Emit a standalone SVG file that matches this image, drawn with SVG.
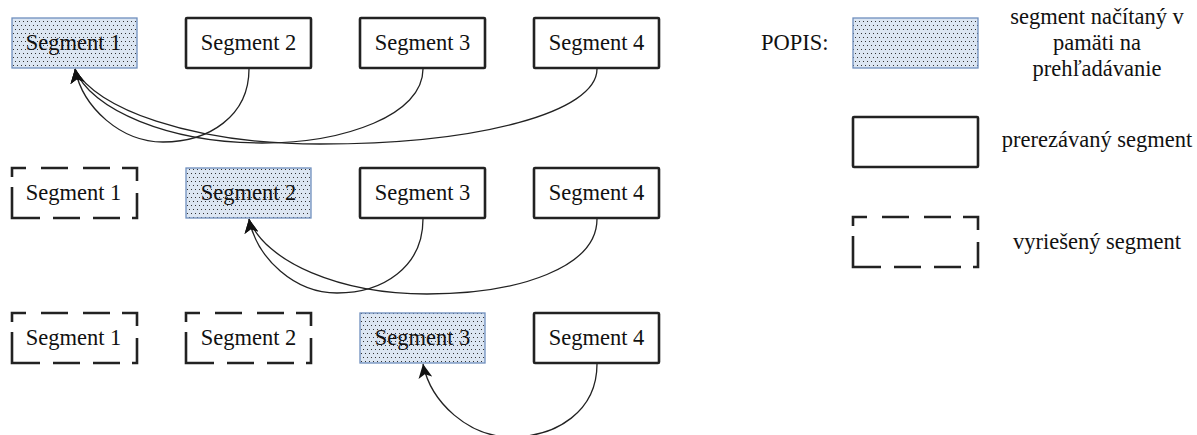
<svg xmlns="http://www.w3.org/2000/svg" width="1197" height="435" viewBox="0 0 1197 435">
  <defs>
    <!-- dotted fill for the segment that is loaded in memory -->
    <pattern id="dots" width="8" height="8" patternUnits="userSpaceOnUse">
      <rect width="8" height="8" fill="#dce6f2"/>
      <rect x="1" y="1" width="1" height="1" fill="#333"/>
      <rect x="5" y="1" width="1" height="1" fill="#333"/>
      <rect x="3" y="5" width="1" height="1" fill="#333"/>
      <rect x="7" y="5" width="1" height="1" fill="#333"/>
    </pattern>
    <marker id="arrow" viewBox="0 0 10 10" refX="10" refY="5" markerWidth="14" markerHeight="14" markerUnits="userSpaceOnUse" orient="-100">
      <path d="M0,0 L10,5 L0,10 L2.5,5 z" fill="#111"/>
    </marker>
    <style>
      .loaded { fill: url(#dots); stroke: #6f8fbd; stroke-width: 1.3; }
      .cut { fill: #fff; stroke: #222; stroke-width: 2.6; }
      .done { fill: none; stroke: #222; stroke-width: 2.6; stroke-linejoin: miter;
              stroke-dasharray: 14 15 27 15 27 12 28 12 30 12 27 13 27 13 59 10; }
      .lbl { font-family: "Liberation Serif", "Times New Roman", serif; font-size: 22.5px; fill: #111; }
      .mid { text-anchor: middle; }
      .conn { fill: none; stroke: #222; stroke-width: 1.3; marker-end: url(#arrow); }
    </style>
  </defs>

  <rect width="1197" height="435" fill="#fff"/>

  <!-- row 1 -->
  <g id="r1-seg1"><rect class="loaded" x="12" y="18" width="125" height="50"/><text class="lbl mid" x="73.5" y="50">Segment 1</text></g>
  <g id="r1-seg2"><rect class="cut" x="186" y="18" width="125" height="50" rx="1"/><text class="lbl mid" x="248.5" y="50">Segment 2</text></g>
  <g id="r1-seg3"><rect class="cut" x="360" y="18" width="125" height="50" rx="1"/><text class="lbl mid" x="422.5" y="50">Segment 3</text></g>
  <g id="r1-seg4"><rect class="cut" x="534" y="18" width="125" height="50" rx="1"/><text class="lbl mid" x="596.5" y="50">Segment 4</text></g>

  <!-- row 2 -->
  <g id="r2-seg1"><path class="done" d="M12,168 h125 v50 h-125 z"/><text class="lbl mid" x="73.5" y="200">Segment 1</text></g>
  <g id="r2-seg2"><rect class="loaded" x="186" y="168" width="125" height="50"/><text class="lbl mid" x="248.5" y="200">Segment 2</text></g>
  <g id="r2-seg3"><rect class="cut" x="360" y="168" width="125" height="50" rx="1"/><text class="lbl mid" x="422.5" y="200">Segment 3</text></g>
  <g id="r2-seg4"><rect class="cut" x="534" y="168" width="125" height="50" rx="1"/><text class="lbl mid" x="596.5" y="200">Segment 4</text></g>

  <!-- row 3 -->
  <g id="r3-seg1"><path class="done" d="M12,313 h125 v50 h-125 z"/><text class="lbl mid" x="73.5" y="345">Segment 1</text></g>
  <g id="r3-seg2"><path class="done" d="M186,313 h125 v50 h-125 z"/><text class="lbl mid" x="248.5" y="345">Segment 2</text></g>
  <g id="r3-seg3"><rect class="loaded" x="360" y="313" width="125" height="50"/><text class="lbl mid" x="422.5" y="345">Segment 3</text></g>
  <g id="r3-seg4"><rect class="cut" x="534" y="313" width="125" height="50" rx="1"/><text class="lbl mid" x="596.5" y="345">Segment 4</text></g>

  <!-- connectors: each remaining segment points back to the loaded one -->
  <g id="connectors">
    <path class="conn" d="M249,69 C249,116 209,142 163,142 C121,142 83,108 75,69"/>
    <path class="conn" d="M423,69 C423,115 345,143 262,143 C170,143 90,110 75,69"/>
    <path class="conn" d="M597,69 C597,112 480,144 320,144 C190,144 95,108 75,69"/>

    <path class="conn" d="M423,219 C423,267 383,293 337,293 C295,293 257,259 249,219"/>
    <path class="conn" d="M597,219 C597,267 520,294 427,294 C340,294 265,262 249,219"/>

    <path class="conn" d="M597,364 C597,411 557,437 511,437 C469,437 431,403 423,364"/>
  </g>

  <!-- legend -->
  <g id="legend-title"><text class="lbl" x="761" y="50">POPIS:</text></g>
  <g id="legend-loaded">
    <rect class="loaded" x="853" y="18" width="125" height="50"/>
    <text class="lbl mid" x="1097" y="24">segment načítaný v</text>
    <text class="lbl mid" x="1097" y="50">pamäti na</text>
    <text class="lbl mid" x="1097" y="76">prehľadávanie</text>
  </g>
  <g id="legend-cut">
    <rect class="cut" x="853" y="117" width="125" height="50" rx="1"/>
    <text class="lbl mid" x="1097" y="147">prerezávaný segment</text>
  </g>
  <g id="legend-done">
    <path class="done" d="M853,217 h125 v50 h-125 z"/>
    <text class="lbl mid" x="1097" y="249">vyriešený segment</text>
  </g>
</svg>
